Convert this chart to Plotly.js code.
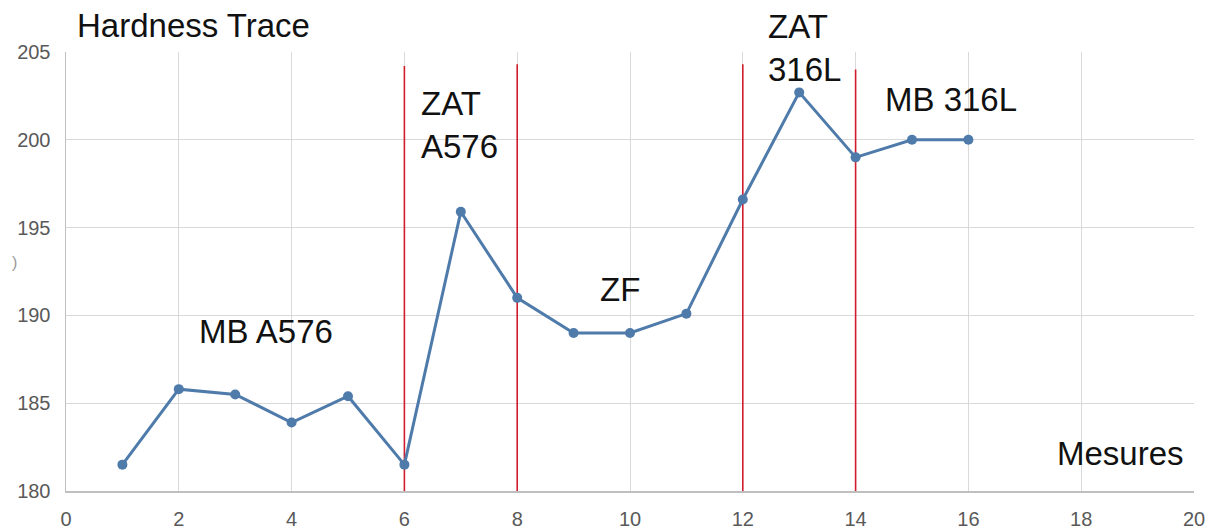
<!DOCTYPE html>
<html>
<head>
<meta charset="utf-8">
<script src="https://cdn.plot.ly/plotly-3.0.1.min.js"></script>
<style>
  html, body { margin: 0; padding: 0; background: #ffffff; }
  #chart { width: 1221px; height: 530px; }
</style>
</head>
<body>
<div id="chart"></div>
<script>
// ---- data ----
const mesures = [1, 2, 3, 4, 5, 6, 7, 8, 9, 10, 11, 12, 13, 14, 15, 16];
const hardness = [181.5, 185.8, 185.5, 183.9, 185.4, 181.5, 195.9, 191.0, 189.0, 189.0, 190.1, 196.6, 202.7, 199.0, 200.0, 200.0];
const boundaryX = [6, 8, 12, 14];
const boundaryTop = [204.2, 204.3, 204.3, 204.0];
const boundaryBottom = 180;
const zoneLabels = ["MB A576", "ZAT<br>A576", "ZF", "ZAT<br>316L", "MB 316L"];
const zoneLabelX = [2.34, 6.28, 9.45, 12.43, 14.50];
const zoneLabelY = [189.1, 200.86, 191.5, 205.2, 202.27];
const xTicks = [0, 2, 4, 6, 8, 10, 12, 14, 16, 18, 20];
const yTicks = [180, 185, 190, 195, 200, 205];
const chartTitle = "Hardness Trace";
const xTitle = "Mesures";

// ---- traces ----
const traces = [];
boundaryX.forEach((bx, i) => {
  traces.push({
    x: [bx, bx],
    y: [boundaryBottom, boundaryTop[i]],
    mode: "lines",
    line: { color: "#d01c2c", width: 1.6 },
    hoverinfo: "skip",
    showlegend: false
  });
});
traces.push({
  x: mesures,
  y: hardness,
  mode: "lines+markers",
  line: { color: "#4f7bab", width: 3 },
  marker: { color: "#4f7bab", size: 10 },
  showlegend: false
});

const Y0 = 180, Y1 = 205;
const labelFont = { family: "Liberation Sans, Arial, sans-serif", size: 33, color: "#111111" };
const annotations = zoneLabels.map((t, i) => ({
  text: t,
  x: zoneLabelX[i],
  // paper fraction from the data value, so labels above the axis top still show
  y: (zoneLabelY[i] - Y0) / (Y1 - Y0),
  xref: "x",
  yref: "paper",
  xanchor: "left",
  yanchor: "middle",
  align: "left",
  showarrow: false,
  font: labelFont,
  borderpad: 0
}));
annotations.push({
  text: xTitle,
  x: 19.84,
  y: (182.16 - Y0) / (Y1 - Y0),
  xref: "x",
  yref: "paper",
  xanchor: "right",
  yanchor: "middle",
  showarrow: false,
  font: labelFont,
  borderpad: 0
});
annotations.push({
  text: ")",
  x: (10 - 66) / (1221 - 66 - 27),
  y: (491 - 262) / (491 - 52),
  xref: "paper",
  yref: "paper",
  showarrow: false,
  font: { family: "Liberation Sans, Arial, sans-serif", size: 16, color: "#9a9a9a" }
});

const layout = {
  width: 1221,
  height: 530,
  margin: { l: 66, r: 27, t: 52, b: 39 },
  paper_bgcolor: "#ffffff",
  plot_bgcolor: "#ffffff",
  title: {
    text: chartTitle,
    font: labelFont,
    x: 77 / 1221,
    xref: "container",
    xanchor: "left",
    y: 1 - 25.5 / 530,
    yref: "container",
    yanchor: "middle"
  },
  xaxis: {
    range: [0, 20],
    tickvals: xTicks,
    ticktext: xTicks.map(String),
    showgrid: true,
    gridcolor: "#d9d9d9",
    gridwidth: 1,
    showline: true,
    linecolor: "#bfbfbf",
    linewidth: 1.5,
    zeroline: false,
    ticks: "",
    ticklabelstandoff: 9,
    tickfont: { family: "Liberation Sans, Arial, sans-serif", size: 20, color: "#595959" }
  },
  yaxis: {
    range: [Y0, Y1],
    tickvals: yTicks,
    ticktext: yTicks.map(String),
    showgrid: true,
    gridcolor: "#d9d9d9",
    gridwidth: 1,
    showline: true,
    linecolor: "#bfbfbf",
    linewidth: 1.5,
    zeroline: false,
    ticks: "",
    ticklabelstandoff: 10,
    tickfont: { family: "Liberation Sans, Arial, sans-serif", size: 20, color: "#595959" }
  },
  annotations: annotations,
  showlegend: false
};

Plotly.newPlot("chart", traces, layout, { displayModeBar: false, staticPlot: true });
</script>
</body>
</html>
